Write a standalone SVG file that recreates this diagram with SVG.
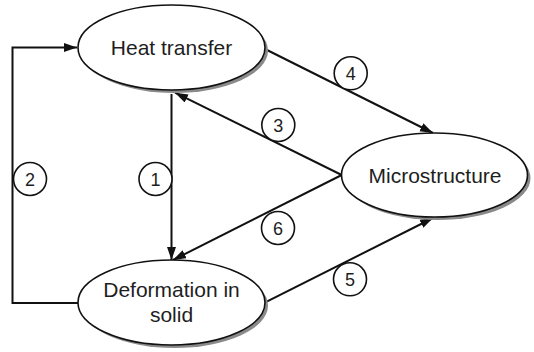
<svg xmlns="http://www.w3.org/2000/svg" width="534" height="352" viewBox="0 0 534 352">
  <defs>
    <marker id="arr" markerUnits="userSpaceOnUse" markerWidth="14" markerHeight="10" refX="13" refY="4.5" orient="auto">
      <path d="M0,0 L13,4.5 L0,9 Z" fill="#111"/>
    </marker>
  </defs>
  <style>
    .shadow { fill: #8a8a8a; }
    .node { fill: #fff; stroke: #111; stroke-width: 1.6; }
    .lbl { font-family: "Liberation Sans", Arial, sans-serif; font-size: 21px; fill: #1e1e1e; text-anchor: middle; }
    .edge { fill: none; stroke: #111; stroke-width: 2; }
    .num circle { fill: #fff; stroke: #111; stroke-width: 1.6; }
    .num text { font-family: "Liberation Sans", Arial, sans-serif; font-size: 18px; fill: #1e1e1e; text-anchor: middle; }
  </style>
  <rect width="534" height="352" fill="#fff"/>

  <g id="connectors">
    <path class="edge" d="M78,303 H12.5 V47.5 H77" marker-end="url(#arr)"/>
    <line class="edge" x1="171.5" y1="94" x2="171.5" y2="260" marker-end="url(#arr)"/>
    <line class="edge" x1="341.7" y1="175" x2="175" y2="92.7" marker-end="url(#arr)"/>
    <line class="edge" x1="265" y1="49" x2="433" y2="133" marker-end="url(#arr)"/>
    <line class="edge" x1="266.7" y1="301.7" x2="433" y2="218" marker-end="url(#arr)"/>
    <line class="edge" x1="341.7" y1="175" x2="173" y2="260" marker-end="url(#arr)"/>
  </g>

  <g id="heat-transfer">
    <ellipse class="shadow" cx="174.5" cy="50.5" rx="93.5" ry="42.5"/>
    <ellipse class="node" cx="171.5" cy="47.5" rx="93.5" ry="42.5"/>
    <text class="lbl" x="171.5" y="55">Heat transfer</text>
  </g>

  <g id="microstructure">
    <ellipse class="shadow" cx="437.5" cy="178" rx="93" ry="42"/>
    <ellipse class="node" cx="434.5" cy="175" rx="93" ry="42"/>
    <text class="lbl" x="435" y="183">Microstructure</text>
  </g>

  <g id="deformation">
    <ellipse class="shadow" cx="174.5" cy="305.5" rx="93.5" ry="42.5"/>
    <ellipse class="node" cx="171.5" cy="302.5" rx="93.5" ry="42.5"/>
    <text class="lbl" x="171.5" y="296.5">Deformation in</text>
    <text class="lbl" x="171.5" y="321.5">solid</text>
  </g>

  <g id="label-1" class="num">
    <circle cx="155.5" cy="179" r="16.5"/>
    <text x="155.5" y="185.5">1</text>
  </g>
  <g id="label-2" class="num">
    <circle cx="30" cy="179" r="16.5"/>
    <text x="30" y="185.5">2</text>
  </g>
  <g id="label-3" class="num">
    <circle cx="278.3" cy="125" r="16.5"/>
    <text x="278.3" y="131.5">3</text>
  </g>
  <g id="label-4" class="num">
    <circle cx="350.7" cy="73.3" r="16.5"/>
    <text x="350.7" y="79.8">4</text>
  </g>
  <g id="label-5" class="num">
    <circle cx="350" cy="279.3" r="16.5"/>
    <text x="350" y="285.8">5</text>
  </g>
  <g id="label-6" class="num">
    <circle cx="278" cy="228" r="16.5"/>
    <text x="278" y="234.5">6</text>
  </g>
</svg>
